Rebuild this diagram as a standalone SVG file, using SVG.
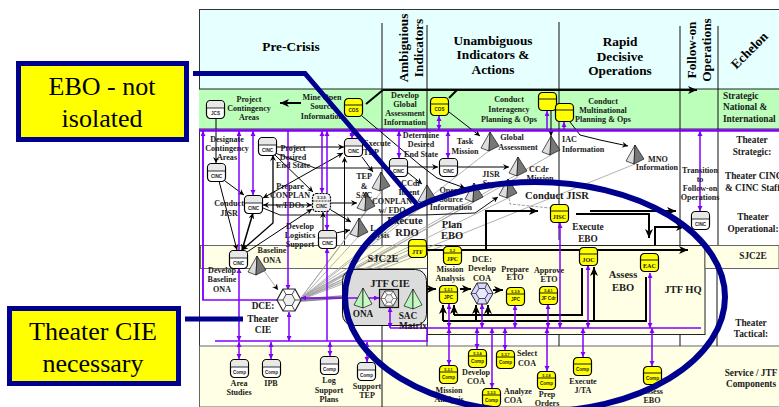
<svg xmlns="http://www.w3.org/2000/svg" width="779" height="407" viewBox="0 0 779 407">
<style>
text{font-family:"Liberation Serif","Times New Roman",serif;font-weight:bold;fill:#1a1a1a;text-anchor:middle}
.l{font-size:8.1px}
.m{font-size:9.3px}
.b{font-size:10.5px}
.h{font-size:13.3px;fill:#000}
.st{text-anchor:start}
.nt{font-family:"Liberation Sans",Arial,sans-serif;font-size:4.6px}
.ny{font-size:6.2px;font-family:"Liberation Serif",serif}
.ns{font-family:"Liberation Sans",Arial,sans-serif;font-size:3.8px}
.co{font-size:26px;font-weight:normal;fill:#000}
.k{fill:none;stroke:#000;stroke-width:1;marker-end:url(#a)}
.kd{fill:none;stroke:#000;stroke-width:1;marker-end:url(#a);marker-start:url(#as)}
.t{fill:none;stroke:#000;stroke-width:2;marker-end:url(#at)}
.tn{fill:none;stroke:#000;stroke-width:2}
.p{fill:none;stroke:#8000ff;stroke-width:1.5;marker-end:url(#p);marker-start:url(#ps)}
.pe{fill:none;stroke:#8000ff;stroke-width:1.5;marker-end:url(#p)}
.pl{fill:none;stroke:#8000ff;stroke-width:1.5}
.g{fill:none;stroke:#a0a0a0;stroke-width:.8}
.gd{fill:none;stroke:#888;stroke-width:.8;stroke-dasharray:3 1.5}
.grid{fill:none;stroke:#111;stroke-width:1}
.blue{fill:none;stroke:#00008f;stroke-width:5}
.dark{fill:#777;stroke:#111;stroke-width:.7;stroke-linejoin:round}
.light{fill:#ddd;stroke:#111;stroke-width:.7;stroke-linejoin:round}
</style>
<defs>
<marker id="a" markerWidth="7" markerHeight="6" refX="6" refY="3" orient="auto" markerUnits="userSpaceOnUse"><path d="M0 0L6 3L0 6L2 3Z" fill="#000"/></marker>
<marker id="as" markerWidth="7" markerHeight="6" refX="0" refY="3" orient="auto" markerUnits="userSpaceOnUse"><path d="M6 0L0 3L6 6L4 3Z" fill="#000"/></marker>
<marker id="at" markerWidth="10" markerHeight="8" refX="9" refY="4" orient="auto" markerUnits="userSpaceOnUse"><path d="M0 0L9 4L0 8L2.5 4Z" fill="#000"/></marker>
<marker id="p" markerWidth="6" markerHeight="6" refX="5" refY="2.5" orient="auto" markerUnits="userSpaceOnUse"><path d="M0 0L5 2.5L0 5Z" fill="#8000ff"/></marker>
<marker id="ps" markerWidth="6" markerHeight="6" refX="0" refY="2.5" orient="auto" markerUnits="userSpaceOnUse"><path d="M5 0L0 2.5L5 5Z" fill="#8000ff"/></marker>
<g id="w"><rect x=".5" y=".5" width="18" height="18" rx="4" fill="#fff" stroke="#000" stroke-width="1.2"/><path d="M1 8V5Q1 1 5 1H14Q18 1 18 5V8Z" fill="#e8e8e8"/><path d="M.5 8H18.5" stroke="#000" stroke-width=".8"/></g>
<g id="wd"><rect x=".5" y=".5" width="18" height="18" rx="4" fill="#f0f0f0" stroke="#000" stroke-width="1.2" stroke-dasharray="2 1"/><path d="M.5 8H18.5" stroke="#000" stroke-width=".8" stroke-dasharray="2 1"/></g>
<g id="y"><rect x=".5" y=".5" width="18" height="18" rx="4" fill="#ffff00" stroke="#000" stroke-width="1.2"/><path d="M.5 7H18.5" stroke="#000" stroke-width=".9"/></g>
<g id="pyr"><path class="light" d="M9 0L0 16L8 19Z"/><path class="dark" d="M9 0L18 14L8 19Z"/></g>
<g id="pyrg"><path d="M9 0L0 17L9 20Z" fill="#b5f5b5" stroke="#111" stroke-width=".7"/><path d="M9 0L18 16L9 20Z" fill="#c8fac8" stroke="#111" stroke-width=".7"/></g>
<g id="hex"><path d="M-12 0L-6 -11H6L12 0L6 11H-6Z" fill="#fff" stroke="#222" stroke-width="1.2"/><path d="M-6 0L-3 -5.5H3L6 0L3 5.5H-3Z" fill="#eee" stroke="#222" stroke-width=".8"/><path d="M-12 0H-6M12 0H6M-6 -11L-3 -5.5M6 -11L3 -5.5M-6 11L-3 5.5M6 11L3 5.5" stroke="#222" stroke-width=".8" fill="none"/></g>
</defs>
<rect width="779" height="407" fill="#fff"/>
<g id="bands">
<rect x="199.500" y="9.500" width="580" height="397" fill="#fff" stroke="#333" stroke-width="1"/>
<rect x="200" y="10" width="579" height="79" fill="#e6ffff"/>
<rect x="199" y="89" width="580" height="40" fill="#bbffbb"/>
<path d="M199 89H779" stroke="#222" stroke-width="1"/>
<path d="M199 129H779" stroke="#666" stroke-width="1.500"/>
<rect x="200.500" y="245.500" width="227" height="23" fill="#ffffe6" stroke="#666"/>
<rect x="427.500" y="245.500" width="277.500" height="89" fill="#ffffe6" stroke="#222"/>
<rect x="705" y="245.500" width="74" height="23" fill="#ffffe6" stroke="#666"/>
<rect x="199.500" y="346" width="580" height="61" fill="#ffffe6" stroke="#666" stroke-width="1"/>
<path class="grid" d="M382 23V245M382 325V407M427 25V245M559 22V240M680 26V245M718 26V245M717 268V346M680 335V346M559 335V346M344.500 157V245"/>
<path d="M427 335V346" stroke="#222" fill="none"/>
</g>
<g id="connectors">
<g id="gray-fan">
<path class="g" d="M301 298L381 192M301 298L366 211M301 299L358 237M301 299L427 203M301 300L474 202M301 300L508 198"/>
<path class="g" d="M301 298L490 150M301 298L551 155M301 299L518 177M301 299L635 164M303 296L400 245M303 297L420 245M303 298L430 245M303 299L445 245M303 296L385 245"/>
<path class="g" style="stroke-width:1.500;stroke:#888" d="M301 299L343 296M301 300L343 297M301 301L343 298"/>
<path class="gd" d="M509 198L510 204L550 208"/>
<path d="M262 268L278 290" class="g" marker-end="url(#a)"/>
</g>
<path class="grid" d="M263 208L280 215H424L475 213L498 197" marker-end="url(#a)"/>
<path class="grid" d="M275 153L315 168H389"/>
<path class="k" d="M216 118V163"/>
<path class="t" d="M301 103H280"/>
<path class="tn" d="M366 104L383 90"/>
<path class="tn" d="M449 98L457 90"/>
<path class="t" d="M383 90H697"/>
<path class="k" d="M362 116L420 165L437 178L465 188"/>
<path class="k" d="M449 112L480 136"/>
<path class="k" d="M570 122L580 135L600 140L628 146"/>
<path class="k" d="M551 111V136"/>
<path class="k" d="M407 172L422 184"/>
<path class="k" d="M407 167H438"/>
<path class="k" d="M457 167H509"/>
<path class="k" d="M276 147H344"/>
<path class="k" d="M275 155L313 192"/>
<path class="kd" d="M273 155V223L242 250" style="stroke-width:1.300"/>
<path class="kd" d="M343 153L263 198"/>
<path class="k" d="M225 181L244 195"/>
<path class="k" d="M219 181L237 250"/>
<path class="kd" d="M253 213L242 250" style="stroke-width:1.500"/>
<path class="kd" d="M263 205H312"/>
<path class="k" d="M247 252L312 209"/>
<path class="k" d="M331 203H357"/>
<path class="k" d="M331 210L351 222"/>
<path class="k" d="M323 230V212"/>
<path class="k" d="M336 233L350 230"/>
<path class="k" d="M362 157L373 172"/>
<path class="k" d="M344.500 200V157"/>
<path class="t" d="M486 249V211H538"/>
<path class="t" d="M576 214H649V238"/>
<path class="t" d="M590 211H676"/>
<path class="t" d="M655 245V227H685"/>
<path class="t" d="M427 250H688"/>
<path class="tn" d="M443 321H646V277"/>
<path class="t" d="M443 321V305"/>
<path class="t" d="M476 321V305"/>
<path class="t" d="M454 315V305"/>
<path class="tn" d="M454 315H582V268"/>
<path class="t" d="M488 315V305"/>
<path class="t" d="M594 321V267"/>
<path class="t" d="M423 289H436"/>
<path class="t" d="M460 289H471"/>
<path class="t" d="M493 290H503"/>
<g id="purple">
<path d="M199 130.500H779" stroke="#8000ff" stroke-width="2.500" fill="none"/>
<path d="M215 341H427V328H701" stroke="#8000ff" stroke-width="1.500" fill="none"/>
<path class="pl" d="M203 131V300H277"/>
<path class="pe" d="M203 300V131"/>
<path class="pe" d="M239 250V131"/>
<path class="p" d="M253 131V195"/>
<path class="pe" d="M288 131V290"/>
<path class="p" d="M322 131V193"/>
<path class="p" d="M327 131V230"/>
<path class="pe" d="M327 341V248"/>
<path class="p" d="M352 131V138"/>
<path class="p" d="M399 131V158"/>
<path class="p" d="M448 131V158"/>
<path class="p" d="M439 116V130"/>
<path class="pe" d="M547 130V111"/>
<path class="pe" d="M564 130V122"/>
<path class="p" d="M700 131V211"/>
<path class="p" d="M560 328V223"/>
<path class="p" d="M588 328V265"/>
<path class="p" d="M449 328V304"/>
<path class="p" d="M449 328V365"/>
<path class="p" d="M482 328V304"/>
<path class="p" d="M477 328V349"/>
<path class="p" d="M492 328V388"/>
<path class="p" d="M505 328V350"/>
<path class="p" d="M515 328V305"/>
<path class="p" d="M548 328V304"/>
<path class="p" d="M547 328V371"/>
<path class="p" d="M583 328V357"/>
<path class="p" d="M650 328V273"/>
<path class="p" d="M652 328V366"/>
<path class="p" d="M239 268V341"/>
<path class="p" d="M239 342V359"/>
<path class="p" d="M289 341V312"/>
<path class="p" d="M271 342V359"/>
<path class="p" d="M330 342V356"/>
<path class="p" d="M367 342V362"/>
<path class="pl" d="M390 328H427"/>
</g>
</g>
<g id="cie-box"><rect x="342.500" y="269.500" width="84" height="56" rx="11" fill="#dcdcdc" stroke="#111" stroke-width="1"/></g>
<g id="cie-links"><path class="p" d="M301 298H379"/><path class="p" d="M390 328V307"/></g>
<g id="nodes">
<g id="jcs" transform="translate(206,100)"><use href="#w"/><text class="nt" x="9.500" y="15">JCS</text></g>
<g id="cos1" transform="translate(344,98)"><use href="#y"/><text class="nt" x="9.500" y="14">COS</text></g>
<g id="cos2" transform="translate(430,97)"><use href="#y"/><text class="nt" x="9.500" y="14">COS</text></g>
<g id="ya" transform="translate(538,92)"><use href="#y"/></g>
<g id="yb" transform="translate(555,103)"><use href="#y"/></g>
<g id="cinc-a" transform="translate(258,137)"><use href="#w"/><text class="nt" x="9.500" y="15">CINC</text></g>
<g id="cinc-b" transform="translate(344,138)"><use href="#w"/><text class="nt" x="9.500" y="15">CINC</text></g>
<g id="cinc-c" transform="translate(207,163)"><use href="#w"/><text class="nt" x="9.500" y="15">CINC</text></g>
<g id="cinc-d" transform="translate(244,195)"><use href="#w"/><text class="nt" x="9.500" y="15">CINC</text></g>
<g id="cinc-e" transform="translate(312,193)"><use href="#wd"/><text class="ns" x="9.500" y="6">5.3.9</text><text class="nt" x="9.500" y="15">CINC</text></g>
<g id="cinc-f" transform="translate(318,230)"><use href="#w"/><text class="nt" x="9.500" y="15">CINC</text></g>
<g id="cinc-g" transform="translate(229,250)"><use href="#w"/><text class="nt" x="9.500" y="15">CINC</text></g>
<g id="cinc-h" transform="translate(389,158)"><use href="#w"/><text class="nt" x="9.500" y="15">CINC</text></g>
<g id="cinc-i" transform="translate(439,158)"><use href="#w"/><text class="nt" x="9.500" y="15">CINC</text></g>
<g id="cinc-j" transform="translate(691,211)"><use href="#w"/><text class="nt" x="9.500" y="15">CINC</text></g>
<g id="jtf" transform="translate(408,239)"><use href="#y"/><text class="ny" x="9.500" y="15">JTF</text></g>
<g id="jpc52" transform="translate(443,246)"><use href="#y"/><text class="ns" x="9.500" y="5.500">5.2</text><text class="ny" x="9.500" y="15">JPC</text></g>
<g id="jisc" transform="translate(550,204)"><use href="#y"/><text class="ny" x="9.500" y="15">JISC</text></g>
<g id="joc" transform="translate(579,247)"><use href="#y"/><text class="ny" x="9.500" y="15">JOC</text></g>
<g id="eac" transform="translate(640,253)"><use href="#y"/><text class="ny" x="9.500" y="15">EAC</text></g>
<g id="jpc531" transform="translate(439,285)"><use href="#y"/><text class="ns" x="9.500" y="5.500">5.3.1</text><text class="nt" x="9.500" y="14">JPC</text></g>
<g id="jpc539" transform="translate(506,287)"><use href="#y"/><text class="ns" x="9.500" y="5.500">5.3.9</text><text class="nt" x="9.500" y="14">JPC</text></g>
<g id="jf541" transform="translate(539,286)"><use href="#y"/><text class="ns" x="9.500" y="5.500">5.4.1</text><text class="nt" x="9.500" y="14">JF Cdr</text></g>
<g id="c531" transform="translate(439,365)"><use href="#y"/><text class="ns" x="9.500" y="5.500">5.3.1</text><text class="nt" x="9.500" y="14">Comp</text></g>
<g id="c534" transform="translate(468,349)"><use href="#y"/><text class="ns" x="9.500" y="5.500">5.3.4</text><text class="nt" x="9.500" y="14">Comp</text></g>
<g id="c537" transform="translate(496,350)"><use href="#y"/><text class="ns" x="9.500" y="5.500">5.3.7</text><text class="nt" x="9.500" y="14">Comp</text></g>
<g id="c538" transform="translate(537,371)"><use href="#y"/><text class="ns" x="9.500" y="5.500">5.3.8</text><text class="nt" x="9.500" y="14">Comp</text></g>
<g id="c535" transform="translate(482,388)"><use href="#y"/><text class="ns" x="9.500" y="5.500">5.3.5</text><text class="nt" x="9.500" y="14">Comp</text></g>
<g id="c-exec" transform="translate(573,357)"><use href="#y"/><text class="nt" x="9.500" y="14">Comp</text></g>
<g id="c-assess" transform="translate(643,366)"><use href="#y"/><text class="nt" x="9.500" y="14">Comp</text></g>
<g id="w-area" transform="translate(230,359)"><use href="#w"/><text class="nt" x="9.500" y="15">Comp</text></g>
<g id="w-ipb" transform="translate(262,359)"><use href="#w"/><text class="nt" x="9.500" y="15">Comp</text></g>
<g id="w-log" transform="translate(320,356)"><use href="#w"/><text class="nt" x="9.500" y="15">Comp</text></g>
<g id="w-tep" transform="translate(357,362)"><use href="#w"/><text class="nt" x="9.500" y="15">Comp</text></g>
<g id="pyr1"><use href="#pyr" transform="translate(372,172)"/></g>
<g id="pyr2"><use href="#pyr" transform="translate(357,192)"/></g>
<g id="pyr3"><use href="#pyr" transform="translate(350,218)"/></g>
<g id="pyr4"><use href="#pyr" transform="translate(248,256)"/></g>
<g id="pyr5"><use href="#pyr" transform="translate(481,132)"/></g>
<g id="pyr6"><use href="#pyr" transform="translate(542,136)"/></g>
<g id="pyr7"><use href="#pyr" transform="translate(509,157)"/></g>
<g id="pyr8"><use href="#pyr" transform="translate(418,185)"/></g>
<g id="pyr9"><use href="#pyr" transform="translate(465,183)"/></g>
<g id="pyr10"><use href="#pyr" transform="translate(499,179)"/></g>
<g id="pyr11"><use href="#pyr" transform="translate(626,145)"/></g>
<g id="pyr-ona"><use href="#pyrg" transform="translate(354,288)"/></g>
<g id="pyr-sac"><use href="#pyrg" transform="translate(404,289)"/></g>
<g id="hex-theater"><use href="#hex" transform="translate(289,300)"/></g>
<g id="hex-jtf"><rect x="379.500" y="289.500" width="19" height="18" fill="#c8c8c8" stroke="#111" stroke-width="1.200"/><use href="#hex" transform="translate(389,298.500) scale(.68)"/></g>
<g id="hex-coa"><path d="M471 293.500L477 283H487L493 293.500L487 304H477Z" fill="#d8d8ff" stroke="#222" stroke-width="1"/><path d="M476 293.500L479 288.500H485L488 293.500L485 298.500H479Z" fill="#e8e8ff" stroke="#222" stroke-width=".8"/><path d="M471 293.500H476M493 293.500H488M477 283L479 288.500M487 283L485 288.500M477 304L479 298.500M487 304L485 298.500" fill="none" stroke="#222" stroke-width=".7"/></g>
</g>
<g id="labels">
<text class="h" x="291" y="51">Pre-Crisis</text>
<text class="h" transform="translate(403,48) rotate(-90)" x="0" y="5">Ambiguious</text>
<text class="h" transform="translate(418,48) rotate(-90)" x="0" y="5">Indicators</text>
<text class="h" x="493"><tspan x="493" y="45">Unambiguous</tspan><tspan x="493" y="59">Indicators &amp;</tspan><tspan x="493" y="74">Actions</tspan></text>
<text class="h" x="620"><tspan x="620" y="46">Rapid</tspan><tspan x="620" y="61">Decisive</tspan><tspan x="620" y="75">Operations</tspan></text>
<text class="h" transform="translate(691,50) rotate(-90)" x="0" y="5">Follow-on</text>
<text class="h" transform="translate(706,50) rotate(-90)" x="0" y="5">Operations</text>
<text class="h" transform="translate(749,50) rotate(-45)" x="0" y="5">Echelon</text>
<text class="l"><tspan x="249" y="102">Project</tspan><tspan x="249" y="111">Contingency</tspan><tspan x="249" y="120">Areas</tspan></text>
<text class="l"><tspan x="322" y="100">Mine Open</tspan><tspan x="322" y="109">Source</tspan><tspan x="322" y="119">Information</tspan></text>
<text class="l"><tspan x="405" y="98">Develop</tspan><tspan x="405" y="107">Global</tspan><tspan x="405" y="116">Assessment</tspan><tspan x="405" y="125">Information</tspan></text>
<text class="l"><tspan x="509" y="102">Conduct</tspan><tspan x="509" y="112">Interagency</tspan><tspan x="509" y="122">Planning &amp; Ops</tspan></text>
<text class="l"><tspan x="603" y="104">Conduct</tspan><tspan x="603" y="113">Multinational</tspan><tspan x="603" y="122">Planning &amp; Ops</tspan></text>
<text class="m st"><tspan x="723" y="99">Strategic</tspan><tspan x="723" y="110">National &amp;</tspan><tspan x="723" y="122">International</tspan></text>
<text class="l"><tspan x="227" y="142">Designate</tspan><tspan x="227" y="151">Contingency</tspan><tspan x="227" y="160">Areas</tspan></text>
<text class="l"><tspan x="293" y="151">Project</tspan><tspan x="293" y="160">Desired</tspan><tspan x="293" y="168">End State</tspan></text>
<text class="l"><tspan x="377" y="146">Execute</tspan><tspan x="371" y="155">TEP</tspan></text>
<text class="l"><tspan x="229" y="206">Conduct</tspan><tspan x="229" y="216">JISR</tspan></text>
<text class="l"><tspan x="290" y="189">Prepare</tspan><tspan x="290" y="198">CONPLAN</tspan><tspan x="290" y="208">w/FDOs</tspan></text>
<text class="l"><tspan x="300" y="229">Develop</tspan><tspan x="300" y="238">Logistics</tspan><tspan x="300" y="247">Support</tspan></text>
<text class="l"><tspan x="272" y="253">Baseline</tspan><tspan x="272" y="263">ONA</tspan></text>
<text class="l"><tspan x="222" y="273">Develop</tspan><tspan x="222" y="282">Baseline</tspan><tspan x="222" y="292">ONA</tspan></text>
<text class="m"><tspan x="263" y="309">DCE:</tspan><tspan x="263" y="322">Theater</tspan><tspan x="263" y="333">CIE</tspan></text>
<text class="b" x="383" y="262">SJC2E</text>
<text class="l"><tspan x="364" y="179">TEP</tspan><tspan x="364" y="189">&amp;</tspan><tspan x="364" y="198">SAC</tspan></text>
<text class="l"><tspan x="392" y="204">CONPLAN</tspan><tspan x="392" y="213">w/ FDO</tspan></text>
<text class="l"><tspan x="411" y="186">CCdr</tspan><tspan x="409" y="195">Intent</tspan></text>
<text class="l"><tspan x="373" y="231">L</tspan><tspan x="382" y="238">lysis</tspan></text>
<text class="l"><tspan x="421" y="138">Determine</tspan><tspan x="421" y="147">Desired</tspan><tspan x="421" y="157">End State</tspan></text>
<text class="l"><tspan x="465" y="144">Task</tspan><tspan x="465" y="154">Mission</tspan></text>
<text class="l"><tspan x="512" y="140">Global</tspan><tspan x="518" y="150">Assessment</tspan></text>
<text class="l st"><tspan x="562" y="142">IAC</tspan><tspan x="562" y="152">Information</tspan></text>
<text class="l"><tspan x="539" y="172">CCdr</tspan><tspan x="540" y="181">Mission</tspan></text>
<text class="l"><tspan x="491" y="177">JISR</tspan><tspan x="491" y="186">Sync</tspan></text>
<text class="l"><tspan x="449" y="193">Open</tspan><tspan x="451" y="202">Source</tspan><tspan x="451" y="210">Information</tspan></text>
<text class="b" x="557" y="199">Conduct JISR</text>
<text class="b"><tspan x="405" y="224">Execute</tspan><tspan x="407" y="236">RDO</tspan></text>
<text class="b"><tspan x="452" y="228">Plan</tspan><tspan x="452" y="239">EBO</tspan></text>
<text class="m"><tspan x="588" y="230">Execute</tspan><tspan x="588" y="242">EBO</tspan></text>
<text class="l"><tspan x="450" y="272">Mission</tspan><tspan x="450" y="281">Analysis</tspan></text>
<text class="l"><tspan x="482" y="262">DCE:</tspan><tspan x="482" y="271">Develop</tspan><tspan x="482" y="281">COA</tspan></text>
<text class="l"><tspan x="515" y="272">Prepare</tspan><tspan x="515" y="280">ETO</tspan></text>
<text class="l"><tspan x="549" y="273">Approve</tspan><tspan x="549" y="282">ETO</tspan></text>
<text class="b" x="390" y="287">JTF CIE</text>
<text class="m" x="363" y="317">ONA</text>
<text class="m" x="408" y="319">SAC</text>
<text class="m" x="413" y="329">Matrix</text>
<text class="b"><tspan x="623" y="278">Assess</tspan><tspan x="623" y="291">EBO</tspan></text>
<text class="b" x="683" y="293">JTF HQ</text>
<text class="l"><tspan x="700" y="173">Transition</tspan><tspan x="700" y="182">to</tspan><tspan x="700" y="191">Follow-on</tspan><tspan x="700" y="200">Operations</tspan></text>
<text class="l"><tspan x="658" y="162">MNO</tspan><tspan x="657" y="170">Information</tspan></text>
<text class="m"><tspan x="752" y="143">Theater</tspan><tspan x="752" y="155">Strategic:</tspan></text>
<text class="m st"><tspan x="725" y="179">Theater CINC</tspan><tspan x="725" y="191">&amp; CINC Staff</tspan></text>
<text class="m"><tspan x="753" y="220">Theater</tspan><tspan x="753" y="232">Operational:</tspan></text>
<text class="m" x="753" y="259">SJC2E</text>
<text class="m"><tspan x="751" y="326">Theater</tspan><tspan x="751" y="337">Tactical:</tspan></text>
<text class="m"><tspan x="751" y="376">Service / JTF</tspan><tspan x="751" y="387">Components</tspan></text>
<text class="l"><tspan x="239" y="386">Area</tspan><tspan x="239" y="395">Studies</tspan></text>
<text class="l" x="271" y="386">IPB</text>
<text class="l"><tspan x="329" y="383">Log</tspan><tspan x="329" y="393">Support</tspan><tspan x="329" y="402">Plans</tspan></text>
<text class="l"><tspan x="367" y="389">Support</tspan><tspan x="367" y="398">TEP</tspan></text>
<text class="l"><tspan x="449" y="393">Mission</tspan><tspan x="449" y="402">Analysis</tspan></text>
<text class="l"><tspan x="476" y="375">Develop</tspan><tspan x="476" y="384">COA</tspan></text>
<text class="l"><tspan x="527" y="356">Select</tspan><tspan x="527" y="366">COA</tspan></text>
<text class="l"><tspan x="518" y="394">Analyze</tspan><tspan x="513" y="403">COA</tspan></text>
<text class="l"><tspan x="547" y="397">Prep</tspan><tspan x="547" y="406">Orders</tspan></text>
<text class="l"><tspan x="583" y="384">Execute</tspan><tspan x="583" y="393">J/TA</tspan></text>
<text class="l"><tspan x="652" y="394">Assess</tspan><tspan x="652" y="403">EBO</tspan></text>
</g>
<g id="callouts">
<ellipse class="blue" cx="535" cy="297" rx="190" ry="115" style="stroke-width:6"/>
<path class="blue" d="M193 73.500H305L420 208"/>
<path class="blue" d="M185 319H243"/>
<g id="callout-ebo"><rect x="18.500" y="63.500" width="168" height="76" fill="#ffff00" stroke="#00008f" stroke-width="5"/><text class="co" x="102" y="95">EBO - not</text><text class="co" x="102" y="127">isolated</text></g>
<g id="callout-cie"><rect x="9.500" y="308.500" width="169" height="75" fill="#ffff00" stroke="#00008f" stroke-width="5"/><text class="co" x="93" y="340">Theater CIE</text><text class="co" x="93" y="372">necessary</text></g>
</g>
</svg>
